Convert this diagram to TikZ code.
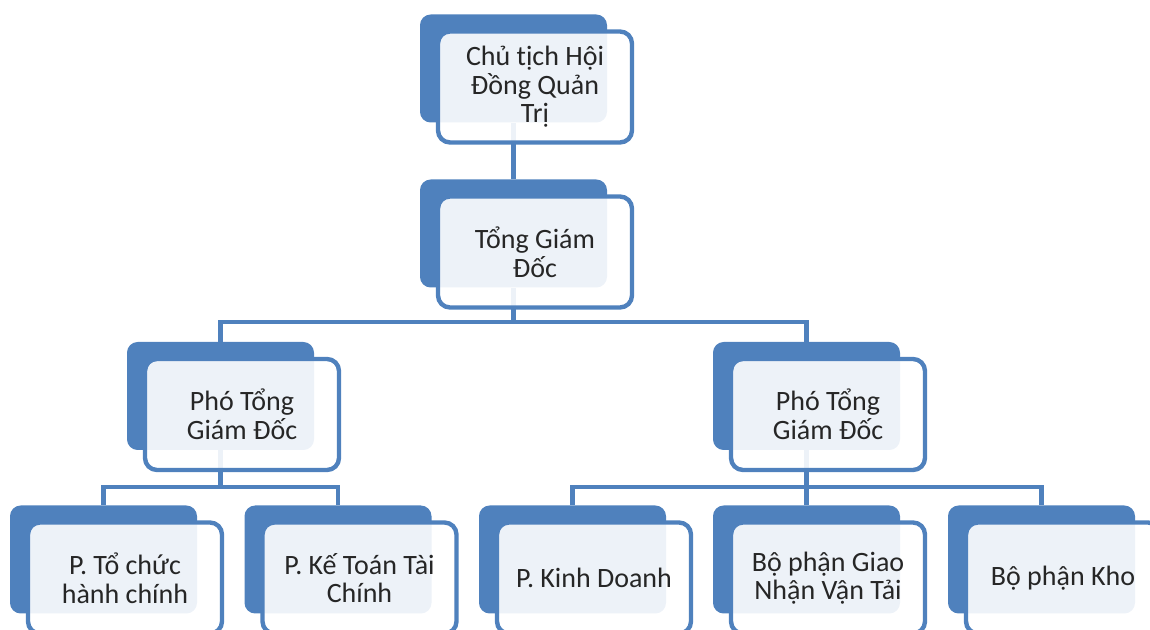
\documentclass[tikz,border=0pt]{standalone}
\usepackage{fontspec}
\setmainfont{Carlito}
\usepackage{tikz}
\usetikzlibrary{backgrounds}
\definecolor{orgblue}{HTML}{4F81BD}

\begin{document}
\begin{tikzpicture}[x=0.75pt, y=-0.75pt,
  backbox/.style={rectangle, rounded corners=8pt, fill=orgblue, minimum width=140.25pt, minimum height=81pt, inner sep=0pt},
  frontbox/.style={rectangle, rounded corners=9pt, draw=orgblue, line width=3.3pt, fill=white, fill opacity=0.9, text opacity=1, minimum width=145.5pt, minimum height=83.25pt, inner sep=2pt, align=center, text=black!85, font=\fontsize{21}{21.5}\selectfont},
  link/.style={draw=orgblue, line width=3.3pt}]
  \useasboundingbox (0,0) rectangle (1150,630);
  \clip (0,0) rectangle (1150,630);
  % Chủ tịch HĐQT
  \node[backbox] (chu-b) at (513.5,68.5) {};
  \node[frontbox] (chu) at (535,87) {Chủ tịch Hội\\Đồng Quản\\Trị};
  % Tổng giám đốc
  \node[backbox] (tgd-b) at (513.5,233.5) {};
  \node[frontbox] (tgd) at (535,252) {Tổng Giám\\Đốc};
  % Phó tổng giám đốc
  \node[backbox] (pt1-b) at (220.5,396) {};
  \node[frontbox] (pt1) at (242,414.5) {Phó Tổng\\Giám Đốc};
  \node[backbox] (pt2-b) at (806.5,396) {};
  \node[frontbox] (pt2) at (828,414.5) {Phó Tổng\\Giám Đốc};
  % Phòng ban
  \node[backbox] (b1-b) at (103.5,559.5) {};
  \node[frontbox] (b1) at (125,578) {P. Tổ chức\\hành chính};
  \node[backbox] (b2-b) at (338,559.5) {};
  \node[frontbox] (b2) at (359.5,578) {P. Kế Toán Tài\\Chính};
  \node[backbox] (b3-b) at (572.5,559.5) {};
  \node[frontbox] (b3) at (594,578) {P. Kinh Doanh};
  \node[backbox] (b4-b) at (806.5,559.5) {};
  \node[frontbox] (b4) at (828,578) {Bộ phận Giao\\Nhận Vận Tải};
  \node[backbox] (b5-b) at (1041.5,559.5) {};
  \node[frontbox] (b5) at (1063,578) {Bộ phận Kho};
  % Đường nối
  \begin{scope}[on background layer]
    \coordinate (bar1) at (0,322);
    \coordinate (bar2) at (0,487);
    \draw[link] (chu-b.south) -- (tgd-b.north);
    \draw[link] (tgd-b.south) -- (tgd-b.south |- bar1);
    \draw[link] (pt1-b.north) |- (tgd-b.south |- bar1) -| (pt2-b.north);
    \draw[link] (pt1-b.south) -- (pt1-b.south |- bar2);
    \draw[link] (b1-b.north) |- (pt1-b.south |- bar2) -| (b2-b.north);
    \draw[link] (pt2-b.south) -- (b4-b.north);
    \draw[link] (b3-b.north) |- (pt2-b.south |- bar2) -| (b5-b.north);
  \end{scope}
\end{tikzpicture}
\end{document}
